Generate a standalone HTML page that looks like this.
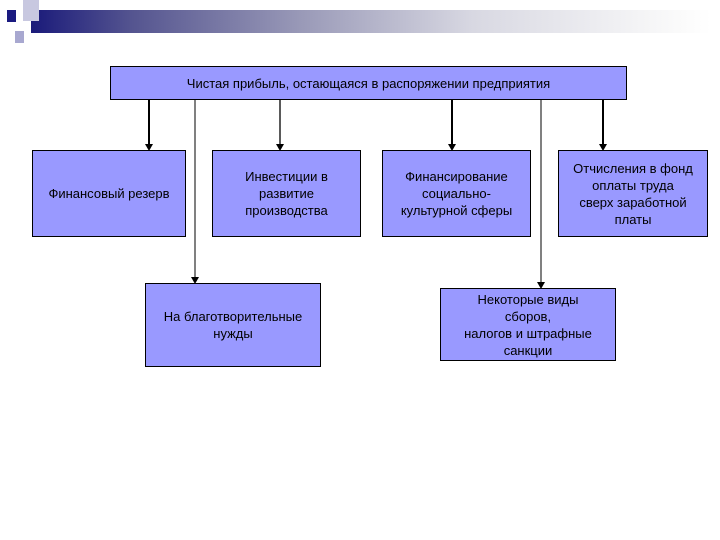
<!DOCTYPE html>
<html><head><meta charset="utf-8"><style>
body{margin:0;width:720px;height:540px;background:#fff;position:relative;overflow:hidden;font-family:"Liberation Sans",sans-serif;}
.b{position:absolute;background:#9999ff;border:1px solid #000;box-sizing:border-box;display:flex;align-items:center;justify-content:center;text-align:center;font-size:13px;line-height:17px;color:#000;}
</style></head><body>
<div style="position:absolute;left:31px;top:10px;width:680px;height:23px;background:linear-gradient(to right,#1a1a7a 0%,#555590 15%,#9a9ab8 40%,#d8d8e2 65%,#fafafa 95%,#fff 100%)"></div>
<div style="position:absolute;left:23px;top:0;width:16px;height:21px;background:#c8c8e0"></div>
<div style="position:absolute;left:7px;top:10px;width:9px;height:12px;background:#1a1a80"></div>
<div style="position:absolute;left:15px;top:31px;width:9px;height:12px;background:#a8a8d0"></div>
<svg style="position:absolute;left:0;top:0" width="720" height="540">
<g stroke="#000">
<line x1="149" y1="99" x2="149" y2="145" stroke-width="2"/>
<line x1="195" y1="99" x2="195" y2="278" stroke-width="1"/>
<line x1="280" y1="99" x2="280" y2="145" stroke-width="1.3"/>
<line x1="452" y1="99" x2="452" y2="145" stroke-width="2"/>
<line x1="541" y1="99" x2="541" y2="283" stroke-width="1"/>
<line x1="603" y1="99" x2="603" y2="145" stroke-width="2"/>
</g>
<g fill="#000">
<path d="M145,144 L153,144 L149,151 z"/>
<path d="M191,277 L199,277 L195,284 z"/>
<path d="M276,144 L284,144 L280,151 z"/>
<path d="M448,144 L456,144 L452,151 z"/>
<path d="M537,282 L545,282 L541,289 z"/>
<path d="M599,144 L607,144 L603,151 z"/>
</g></svg>
<div class="b" style="left:110px;top:66px;width:517px;height:34px;">Чистая прибыль, остающаяся в распоряжении предприятия</div>
<div class="b" style="left:32px;top:150px;width:154px;height:87px;">Финансовый резерв</div>
<div class="b" style="left:212px;top:150px;width:149px;height:87px;">Инвестиции в<br>развитие<br>производства</div>
<div class="b" style="left:382px;top:150px;width:149px;height:87px;">Финансирование<br>социально-<br>культурной сферы</div>
<div class="b" style="left:558px;top:150px;width:150px;height:87px;">Отчисления в фонд<br>оплаты труда<br>сверх заработной<br>платы</div>
<div class="b" style="left:145px;top:283px;width:176px;height:84px;">На благотворительные<br>нужды</div>
<div class="b" style="left:440px;top:288px;width:176px;height:73px;">Некоторые виды<br>сборов,<br>налогов и штрафные<br>санкции</div>
</body></html>
